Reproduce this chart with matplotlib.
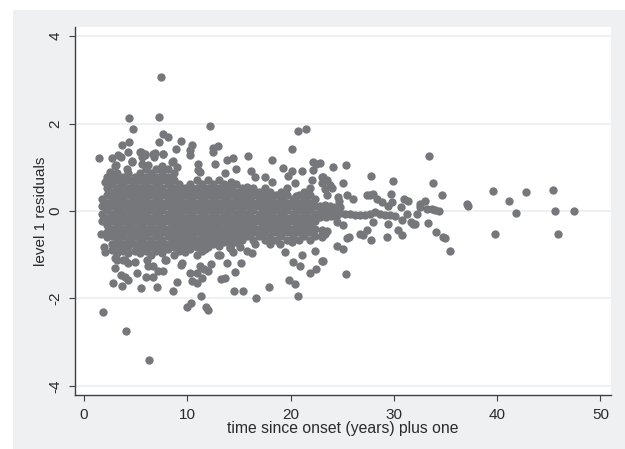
import numpy as np
import matplotlib
matplotlib.use('Agg')
import matplotlib.pyplot as plt
from matplotlib.patches import Rectangle

plt.rcParams['font.family'] = ['Liberation Sans', 'DejaVu Sans']
plt.rcParams['axes.unicode_minus'] = False

# dense part of the cloud, one list of residuals per time column
core_time = [1.75, 2.2, 2.7, 3.2, 3.8, 4.3, 4.9, 5.4, 6.0, 6.5, 7.0, 7.6, 8.1, 8.7, 9.2, 9.8, 10.3, 10.9, 11.4,
             12.0, 12.5, 13.1, 13.6, 14.2, 14.7, 15.3, 15.8, 16.4, 16.9, 17.5, 18.0, 18.6, 19.1, 19.7, 20.2,
             20.8, 21.3, 21.9, 22.4]
core_resid = [
    [0.275, 0.105, -0.065, -0.235],
    [0.7, 0.53, 0.36, 0.19, 0.02, -0.15, -0.32, -0.49, -0.6],
    [0.785, 0.615, 0.445, 0.275, 0.105, -0.065, -0.235, -0.405, -0.575, -0.745],
    [0.87, 0.7, 0.53, 0.36, 0.19, 0.02, -0.15, -0.32, -0.49, -0.66, -0.83, -0.95],
    [0.785, 0.615, 0.445, 0.275, 0.105, -0.065, -0.235, -0.405, -0.575, -0.745, -0.915],
    [0.87, 0.7, 0.53, 0.36, 0.19, 0.02, -0.15, -0.32, -0.49, -0.66, -0.83, -0.97],
    [0.785, 0.615, 0.445, 0.275, 0.105, -0.065, -0.235, -0.405, -0.575, -0.745, -0.915],
    [0.87, 0.7, 0.53, 0.36, 0.19, 0.02, -0.15, -0.32, -0.49, -0.66, -0.83, -0.95],
    [0.95, 0.785, 0.615, 0.445, 0.275, 0.105, -0.065, -0.235, -0.405, -0.575, -0.745, -0.915],
    [0.87, 0.7, 0.53, 0.36, 0.19, 0.02, -0.15, -0.32, -0.49, -0.66, -0.83, -1.0],
    [0.95, 0.785, 0.615, 0.445, 0.275, 0.105, -0.065, -0.235, -0.405, -0.575, -0.745, -0.915],
    [1.04, 0.87, 0.7, 0.53, 0.36, 0.19, 0.02, -0.15, -0.32, -0.49, -0.66, -0.83, -0.95],
    [0.95, 0.785, 0.615, 0.445, 0.275, 0.105, -0.065, -0.235, -0.405, -0.575, -0.745, -0.87],
    [0.87, 0.7, 0.53, 0.36, 0.19, 0.02, -0.15, -0.32, -0.49, -0.66, -0.83, -1.0],
    [0.615, 0.445, 0.275, 0.105, -0.065, -0.235, -0.405, -0.575, -0.745, -0.915],
    [0.53, 0.36, 0.19, 0.02, -0.15, -0.32, -0.49, -0.66, -0.83, -0.93],
    [0.615, 0.445, 0.275, 0.105, -0.065, -0.235, -0.405, -0.575, -0.745, -0.88],
    [0.7, 0.53, 0.36, 0.19, 0.02, -0.15, -0.32, -0.49, -0.66, -0.83, -1.0],
    [0.615, 0.445, 0.275, 0.105, -0.065, -0.235, -0.405, -0.575, -0.745, -0.915],
    [0.7, 0.53, 0.36, 0.19, 0.02, -0.15, -0.32, -0.49, -0.66, -0.83],
    [0.615, 0.445, 0.275, 0.105, -0.065, -0.235, -0.405, -0.575, -0.745],
    [0.7, 0.53, 0.36, 0.19, 0.02, -0.15, -0.32, -0.49, -0.66, -0.8],
    [0.615, 0.445, 0.275, 0.105, -0.065, -0.235, -0.405, -0.575, -0.72],
    [0.66, 0.53, 0.36, 0.19, 0.02, -0.15, -0.32, -0.49, -0.66, -0.75],
    [0.615, 0.445, 0.275, 0.105, -0.065, -0.235, -0.405, -0.575, -0.7],
    [0.53, 0.36, 0.19, 0.02, -0.15, -0.32, -0.49, -0.66],
    [0.55, 0.445, 0.275, 0.105, -0.065, -0.235, -0.405, -0.575],
    [0.53, 0.36, 0.19, 0.02, -0.15, -0.32, -0.49, -0.66],
    [0.445, 0.275, 0.105, -0.065, -0.235, -0.405, -0.575],
    [0.53, 0.36, 0.19, 0.02, -0.15, -0.32, -0.49, -0.66],
    [0.445, 0.275, 0.105, -0.065, -0.235, -0.405, -0.6],
    [0.36, 0.19, 0.02, -0.15, -0.32, -0.49, -0.66],
    [0.445, 0.275, 0.105, -0.065, -0.235, -0.405, -0.575],
    [0.53, 0.36, 0.19, 0.02, -0.15, -0.32, -0.49, -0.66],
    [0.275, 0.105, -0.065, -0.235, -0.405, -0.575],
    [0.36, 0.19, 0.02, -0.15, -0.32, -0.49, -0.66],
    [0.445, 0.275, 0.105, -0.065, -0.235, -0.405, -0.575],
    [0.53, 0.36, 0.19, 0.02, -0.15, -0.32, -0.49, -0.66],
    [0.275, 0.105, -0.065, -0.235, -0.405, -0.575],
]

# more of the dense part, in between the columns above
fill_time = [3.5, 4.6, 5.7, 7.3, 8.4, 9.5, 10.6, 11.7, 12.8, 13.9, 15.0, 16.1, 17.2, 18.3, 19.4, 20.5, 21.6]
fill_resid = [
    [0.7, 0.54, 0.38, 0.22, 0.06, -0.1, -0.26, -0.42, -0.58, -0.74],
    [0.7, 0.54, 0.38, 0.22, 0.06, -0.1, -0.26, -0.42, -0.58, -0.74],
    [0.7, 0.54, 0.38, 0.22, 0.06, -0.1, -0.26, -0.42, -0.58, -0.74],
    [0.7, 0.54, 0.38, 0.22, 0.06, -0.1, -0.26, -0.42, -0.58, -0.74],
    [0.7, 0.54, 0.38, 0.22, 0.06, -0.1, -0.26, -0.42, -0.58, -0.74],
    [0.5, 0.34, 0.18, 0.02, -0.14, -0.3, -0.46, -0.62, -0.78],
    [0.5, 0.34, 0.18, 0.02, -0.14, -0.3, -0.46, -0.62, -0.78],
    [0.5, 0.34, 0.18, 0.02, -0.14, -0.3, -0.46, -0.62, -0.78],
    [0.5, 0.34, 0.18, 0.02, -0.14, -0.3, -0.46, -0.62],
    [0.5, 0.34, 0.18, 0.02, -0.14, -0.3, -0.46, -0.62],
    [0.44, 0.28, 0.12, -0.04, -0.2, -0.36, -0.52, -0.62],
    [0.44, 0.28, 0.12, -0.04, -0.2, -0.36, -0.52],
    [0.44, 0.28, 0.12, -0.04, -0.2, -0.36, -0.52],
    [0.34, 0.18, 0.02, -0.14, -0.3, -0.46],
    [0.34, 0.18, 0.02, -0.14, -0.3, -0.46],
    [0.34, 0.18, 0.02, -0.14, -0.3, -0.46],
    [0.34, 0.18, 0.02, -0.14, -0.3, -0.46],
]

# points above the cloud
upper_time = [7.45, 4.33, 7.26, 4.77, 12.23, 7.68, 8.1, 9.42, 7.26, 4.33, 3.71, 10.43, 13.0, 12.52, 8.88, 10.26,
              12.46, 10.26, 1.48, 2.71, 3.32, 4.23, 3.55, 5.49, 5.9, 6.87, 6.8, 7.68, 15.85, 14.45, 13.87, 18.17,
              20.14, 20.75, 21.49, 19.3, 20.14, 21.14, 22.2, 22.5, 4.62, 5.58, 8.65, 11.07, 12.68, 14.68, 16.17,
              16.55, 13.65, 11.2, 3.0, 4.13, 22.14, 17.52, 18.17, 19.72, 20.43, 22.04, 23.0, 21.39, 2.52, 2.2,
              2.04, 3.07, 4.62, 5.42, 5.9, 5.59, 6.23, 6.72, 7.68, 8.49, 8.97, 11.07]
upper_resid = [3.07, 2.12, 2.16, 1.87, 1.94, 1.77, 1.70, 1.61, 1.57, 1.57, 1.52, 1.50, 1.48, 1.44, 1.42, 1.40,
               1.34, 1.27, 1.22, 1.21, 1.27, 1.34, 1.24, 1.35, 1.30, 1.33, 1.24, 1.31, 1.25, 1.22, 1.16, 1.17,
               1.43, 1.82, 1.87, 0.98, 0.92, 0.91, 1.11, 1.08, 1.14, 1.24, 1.14, 1.08, 1.07, 0.97, 0.91,
               0.78, 0.86, 0.89, 1.03, 0.95, 0.93, 0.78, 0.66, 0.79, 0.63, 0.70, 0.78, 0.38, 0.89, 0.78,
               0.66, 1.05, 1.12, 1.35, 1.27, 1.08, 1.05, 1.31, 1.31, 1.12, 1.01, 0.93]

# points below the cloud
lower_time = [1.87, 4.04, 6.26, 2.78, 3.65, 2.97, 5.52, 7.04, 5.13, 3.55, 3.97, 4.29, 6.0, 6.71, 7.2, 7.68, 6.23,
              6.65, 9.39, 12.33, 11.23, 11.62, 12.04, 10.26, 10.91, 11.43, 10.43, 10.91, 9.0, 8.62, 11.3, 10.33,
              9.94, 11.81, 12.04, 13.23, 13.62, 14.62, 15.17, 14.56, 15.36, 16.62, 17.91, 19.82, 20.46, 20.72,
              20.2, 20.91, 21.14, 21.88, 22.46, 13.81, 13.17, 14.14, 7.94, 3.0, 1.94, 1.62, 2.04, 3.81, 4.29,
              4.94, 6.07, 23.07, 16.29, 15.74, 15.1, 14.45, 14.13, 13.0, 11.71, 19.45, 18.97, 18.0, 22.36, 16.55,
              20.1, 23.0, 2.68, 3.17, 3.97, 7.84, 9.46]
lower_resid = [-2.31, -2.75, -3.42, -1.64, -1.72, -1.30, -1.77, -1.74, -1.43, -1.46, -1.51, -1.57, -1.51, -1.51,
               -1.37, -1.37, -1.26, -1.26, -1.23, -1.21, -1.26, -1.32, -1.38, -1.41, -1.41, -1.53, -1.61, -1.64,
               -1.62, -1.82, -1.94, -2.10, -2.20, -2.20, -2.27, -1.55, -1.53, -1.39, -1.20, -1.84, -1.82, -2.0,
               -1.75, -1.59, -1.68, -1.94, -1.17, -1.26, -1.0, -1.41, -1.32, -1.2, -1.01, -0.84, -1.11, -1.07,
               -0.82, -0.53, -0.94, -1.13, -1.2, -1.17, -1.13, -1.14, -0.96, -0.92, -0.82, -0.94, -0.82, -1.01,
               -0.86, -0.94, -0.75, -0.75, -0.92, -0.75, -0.71, -0.56, -0.9, -1.13, -1.13, -1.13, -1.2]

# right hand tail, years above about 23
tail_time = [33.37, 25.4, 24.07, 22.85, 27.82, 29.88, 25.1, 33.82, 39.63, 42.79, 45.44, 34.66, 29.75, 41.11, 24.62,
             25.49, 24.72, 26.07, 27.69, 28.0, 27.37, 28.33, 28.82, 29.46, 29.78, 30.69, 30.98, 31.4, 33.04, 32.53,
             37.05, 37.2, 45.63, 47.4, 41.79, 39.79, 45.85, 35.43, 35.0, 34.8, 34.1, 33.33, 31.88, 30.75, 30.43,
             29.33, 29.46, 27.78, 27.43, 26.72, 27.0, 25.49, 25.7, 24.52, 25.1, 23.1, 25.33, 25.1, 24.46, 27.94,
             23.0, 23.33, 23.0, 23.5, 23.17, 23.5, 23.82, 24.0, 23.0, 23.33, 23.5,
             22.85, 23.33, 23.82, 24.3, 24.79, 25.27, 25.75, 26.24, 26.72, 27.2, 27.69, 28.17, 28.66, 29.14, 29.63,
             30.11, 30.76, 31.3, 31.63, 32.05, 32.27, 32.53, 33.18, 33.66, 33.98, 34.4,
             22.85, 23.33, 23.82, 24.3, 24.79, 22.9, 23.4, 23.9, 24.4]
tail_resid = [1.26, 1.05, 1.0, 1.10, 0.81, 0.68, 0.65, 0.63, 0.45, 0.43, 0.49, 0.37, 0.39, 0.23, 0.32,
              0.37, 0.23, 0.27, 0.36, 0.40, 0.36, 0.28, 0.21, 0.11, 0.21, 0.09, 0.27, 0.22, 0.23, 0.15,
              0.15, 0.11, -0.01, -0.01, -0.05, -0.52, -0.52, -0.92, -0.61, -0.59, -0.47, -0.28, -0.30, -0.54, -0.44,
              -0.59, -0.30, -0.67, -0.44, -0.52, -0.56, -0.62, -0.6, -0.81, -0.86, -1.15, -1.44, -0.33, -0.25, -0.25,
              -0.44, -0.52, -0.6, -0.45, 0.78, 0.70, 0.59, 0.53, 0.63, 0.51, 0.36,
              -0.02, 0.02, 0.0, -0.02, -0.04, -0.06, -0.08, -0.1, -0.1, -0.1, -0.06, -0.02, -0.06, -0.1, -0.1,
              -0.12, -0.21, -0.06, -0.25, -0.29, -0.06, 0.09, 0.05, 0.05, 0.02, 0.0,
              0.12, 0.14, 0.12, 0.1, 0.1, -0.14, -0.14, -0.12, -0.14]

yticks = [-4, -2, 0, 2, 4]
xticks = [0, 10, 20, 30, 40, 50]
text_col = '#2b2b2b'
dot_col = '#76777b'
line_col = '#3f4043'
panel_col = '#eff0f2'
grid_col = '#ebecee'


def main():
    fig = plt.figure(figsize=(6.25, 4.49), dpi=100, facecolor='white')
    fig.patches.append(Rectangle((13 / 625, 0), 612 / 625, 439 / 449, transform=fig.transFigure,
                                 facecolor=panel_col, edgecolor='none'))
    ax = fig.add_axes([74.5 / 625, 54 / 449, 536.2 / 625, 368 / 449])
    ax.set_zorder(2)

    x = np.repeat(core_time, [len(c) for c in core_resid])
    y = np.concatenate(core_resid)
    xf = np.repeat(fill_time, [len(c) for c in fill_resid])
    yf = np.concatenate(fill_resid)
    x = np.concatenate([x, xf, upper_time, lower_time, tail_time])
    y = np.concatenate([y, yf, upper_resid, lower_resid, tail_resid])

    ax.scatter(x, y, s=36, color=dot_col, linewidths=0, zorder=3)

    ax.set_xlim(-0.92, 51.0)
    ax.set_ylim(-4.21, 4.21)
    ax.set_xticks(xticks)
    ax.set_yticks(yticks)
    ax.grid(axis='y', color=grid_col, linewidth=1.1, zorder=0)
    ax.set_axisbelow(True)
    for s in ['top', 'right']:
        ax.spines[s].set_visible(False)
    for s in ['left', 'bottom']:
        ax.spines[s].set_color(line_col)
        ax.spines[s].set_linewidth(1.0)
    ax.tick_params(axis='both', length=4.3, width=0.8, color=line_col, labelcolor=text_col, labelsize=11)
    ax.tick_params(axis='x', pad=5)
    ax.tick_params(axis='y', pad=4.3)
    for t in ax.get_yticklabels():
        t.set_rotation(90)
        t.set_verticalalignment('center')

    ax.set_xlabel('time since onset (years) plus one', fontsize=11.3, color=text_col, labelpad=-0.5)
    ax.set_ylabel('level 1 residuals', fontsize=11, color=text_col, labelpad=0.5)

    fig.savefig('out.png', dpi=100, facecolor='white')


if __name__ == '__main__':
    main()
